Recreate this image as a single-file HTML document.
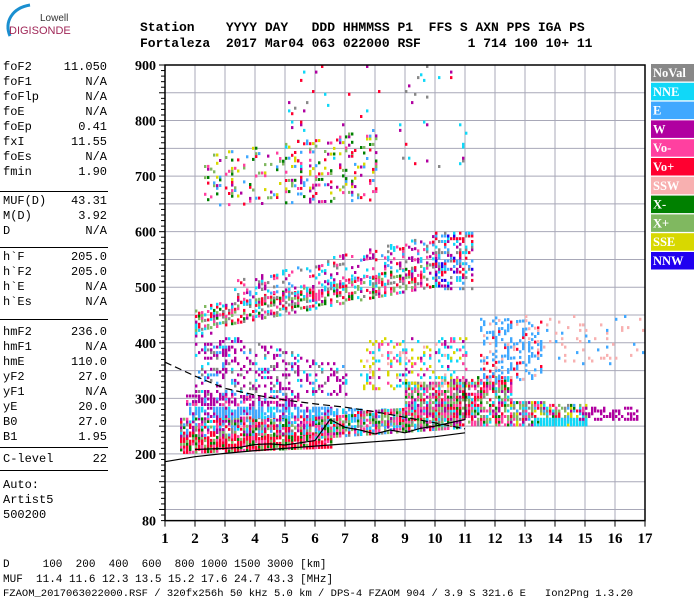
<!DOCTYPE html>
<html><head><meta charset="utf-8">
<style>
html,body{margin:0;padding:0;background:#fff;}
body{width:700px;height:600px;position:relative;overflow:hidden;font-family:"Liberation Mono",monospace;}
.t{position:absolute;white-space:pre;color:#000;}
.hd{font-family:"Liberation Mono",monospace;font-weight:bold;font-size:13px;}
.lp{font-size:12px;left:3px;width:104px;}
.lp span{float:right;}
.hr{position:absolute;left:0;width:108px;height:1px;background:#000;}
.bt{font-size:11px;left:3px;}
</style></head>
<body>
<svg width="700" height="600" style="position:absolute;left:0;top:0">
  <g>
    <path d="M10,36 C4,22 12,8 30,5" stroke="#1a8fd0" stroke-width="3" fill="none"/>
    <text x="40" y="21" font-family="Liberation Sans,sans-serif" font-size="10" fill="#333">Lowell</text>
    <text x="9" y="34" font-family="Liberation Sans,sans-serif" font-size="11" fill="#a02858">DIGISONDE</text>
  </g>
  <g id="grid"></g>
  <g id="marks"></g>
  <g id="lines"></g>
  <g id="axes"></g>
  <g id="legend"></g>
</svg>
<div class="t hd" style="left:140px;top:20px">Station    YYYY DAY   DDD HHMMSS P1  FFS S AXN PPS IGA PS</div>
<div class="t hd" style="left:140px;top:36px">Fortaleza  2017 Mar04 063 022000 RSF      1 714 100 10+ 11</div>
<div id="lp"></div>
<div class="t bt" style="top:559px">D     100  200  400  600  800 1000 1500 3000 [km]</div>
<div class="t bt" style="top:574px">MUF  11.4 11.6 12.3 13.5 15.2 17.6 24.7 43.3 [MHz]</div>
<div class="t bt" style="top:588px;font-size:10.5px">FZAOM_2017063022000.RSF / 320fx256h 50 kHz 5.0 km / DPS-4 FZAOM 904 / 3.9 S 321.6 E   Ion2Png 1.3.20</div>
<script>
const NS="http://www.w3.org/2000/svg";
// ---- data ----
const paramNames=["foF2","foF1","foFlp","foE","foEp","fxI","foEs","fmin","MUF(D)","M(D)","D","h`F","h`F2","h`E","h`Es","hmF2","hmF1","hmE","yF2","yF1","yE","B0","B1","C-level"];
const paramValues=["11.050","N/A","N/A","N/A","0.41","11.55","N/A","1.90","43.31","3.92","N/A","205.0","205.0","N/A","N/A","236.0","N/A","110.0","27.0","N/A","20.0","27.0","1.95","22"];
const paramTops=[60,75,90,105,120,135,150,165,194,209,224,250,265,280,295,325,340,355,370,385,400,415,430,452];
const dividerTops=[191,247,319,447,470];
const legendNames=["NoVal","NNE","E","W","Vo-","Vo+","SSW","X-","X+","SSE","NNW"];
const legendColors=["#888888","#10d8f8","#40a8ff","#b000a0","#ff40a0","#ff0030","#f8b0b0","#008000","#80b860","#d8d800","#2000f0"];
const xTicks=[1,2,3,4,5,6,7,8,9,10,11,12,13,14,15,16,17];
const yTickLabels=[900,800,700,600,500,400,300,200];
// echo regions
const regFreqLo=[1.5,1.5,1.8,6.5,1.7,6.0,9.0,12.5,13.3,14.8,11.5,13.0,7.5,2.0,2.0,3.0,10.0,2.3,5.0];
const regFreqHi=[6.5,6.0,6.5,9.0,5.5,10.8,12.5,15.0,15.0,16.8,13.5,17.0,11.0,7.0,10.0,10.0,11.2,8.0,11.0];
const regHLoStart=[205,235,270,272,292,232,255,255,255,265,330,360,320,310,425,465,500,650,720];
const regHHiStart=[235,268,285,285,312,268,330,300,265,285,450,450,410,430,465,510,600,740,900];
const regHLoEnd=[215,240,270,272,290,250,255,255,255,265,340,360,320,310,505,545,500,660,720];
const regHHiEnd=[240,270,285,285,305,300,345,290,265,285,440,450,410,360,545,600,600,790,900];
const regDensity=[0.9,0.85,0.8,0.4,0.6,0.85,0.8,0.7,0.9,0.55,0.35,0.08,0.3,0.3,0.55,0.3,0.5,0.2,0.03];
const regColors=["5545587","4335210875","2222213","2212","3333324","54887354210","5548873410","5483871029","1","3","2222265","6662","1919634","3333012","5488354710","2354310","10235A","5874392","5310"];
// profile lines
const lowerCurveF=[1,2,3,4,5,6,7,8,9,10,11];
const lowerCurveH=[186,195,201,206,210,214,218,222,226,231,238];
const dashCurveF=[1,2,3,4,5,6,7,8,9,10,11];
const dashCurveH=[365,340,318,306,297,290,284,276,266,256,245];
const profileF=[2,3,3.5,4,4.5,5,5.5,6,6.5,7,7.5,8,8.5,9,9.5,10,10.5,11,11];
const profileH=[208,210,212,217,218,216,220,224,262,248,243,236,243,238,246,250,256,262,330];

// ---- scales ----
const X=f=>165+(f-1)*30;
const Y=h=>65+(900-h)*0.5556;
function el(tag,attrs,parent){const e=document.createElementNS(NS,tag);for(const k in attrs)e.setAttribute(k,attrs[k]);parent.appendChild(e);return e;}

// left panel
const lp=document.getElementById('lp');
paramNames.forEach((n,i)=>{const d=document.createElement('div');d.className='t lp';d.style.top=paramTops[i]+'px';


d.innerHTML=n+'<span>'+paramValues[i]+'</span>';lp.appendChild(d);});
dividerTops.forEach(t=>{const d=document.createElement('div');d.className='hr';d.style.top=t+'px';


lp.appendChild(d);});
[["Auto:",478],["Artist5",493],["500200",508]].forEach(a=>{const d=document.createElement('div');d.className='t lp';d.style.top=a[1]+'px';d.textContent=a[0];


lp.appendChild(d);});

// grid
const g=document.getElementById('grid');
for(let h=100;h<=850;h+=50){const l=el('line',{x1:165,x2:645,y1:Y(h),y2:Y(h),stroke:'#a8a8b8','stroke-width':1},g);

}
xTicks.forEach(f=>{if(f>1&&f<17){const l=el('line',{x1:X(f),x2:X(f),y1:65,y2:Y(80),stroke:'#a8a8b8','stroke-width':1},g);

}});

// echo marks
const m=document.getElementById('marks');
function hash(a,b,s){let v=(a*73856093)^(b*19349663)^(s*83492791);v=(v^(v>>>13))*1274126177;v=v^(v>>>16);return ((v>>>0)%10000)/10000;}
regFreqLo.forEach((f0,r)=>{
  const f1=regFreqHi[r];const cols=regColors[r].split('').map(c=>c==='A'?10:parseInt(c));
  let i=0;
  for(let f=f0;f<=f1;f+=0.1,i++){
    const t=(f-f0)/(f1-f0||1);
    const lo=regHLoStart[r]+(regHLoEnd[r]-regHLoStart[r])*t;
    const hi=regHHiStart[r]+(regHHiEnd[r]-regHHiStart[r])*t;
    let j=0;
    for(let h=lo;h<=hi;h+=5,j++){
      if(hash(i,j,r+1)<regDensity[r]){
        const c=cols[Math.floor(hash(j,i,r+7)*cols.length)];
        const rc=el('rect',{x:X(f).toFixed(1),y:Y(h).toFixed(1),width:2.4,height:3,fill:legendColors[c]},m);
        
        
      }
    }
  }
});

// lines
const L=document.getElementById('lines');
const pts=(fs,hs)=>fs.map((f,i)=>X(f).toFixed(1)+','+Y(hs[i]).toFixed(1)).join(' ');
let p=el('polyline',{points:pts(lowerCurveF,lowerCurveH),fill:'none',stroke:'#000','stroke-width':1.2},L);


p=el('polyline',{points:pts(dashCurveF,dashCurveH),fill:'none',stroke:'#000','stroke-width':1.2,'stroke-dasharray':'7,4'},L);


p=el('polyline',{points:pts(profileF,profileH),fill:'none',stroke:'#000','stroke-width':1.2},L);



// axes
const A=document.getElementById('axes');
let fr=el('path',{d:`M165,65 H645 V${Y(80)} H165 Z`,fill:'none',stroke:'#000','stroke-width':1.5},A);


for(let h=80;h<=900;h+=10){const big=h%50===0;const l=el('line',{x1:165-(big?6:4),x2:165,y1:Y(h),y2:Y(h),stroke:'#000','stroke-width':1},A);

}
yTickLabels.concat([80]).forEach(h=>{const t=el('text',{x:156,y:Y(h)+5,'text-anchor':'end','font-family':'Liberation Serif,serif','font-weight':'bold','font-size':14},A);t.textContent=h;

});
xTicks.forEach(f=>{const l=el('line',{x1:X(f),x2:X(f),y1:Y(80),y2:Y(80)+6,stroke:'#000','stroke-width':1},A);


const t=el('text',{x:X(f),y:543,'text-anchor':'middle','font-family':'Liberation Serif,serif','font-weight':'bold','font-size':15},A);t.textContent=f;

});

// legend
const G=document.getElementById('legend');
legendNames.forEach((n,i)=>{const y=64+i*18.8;
const r=el('rect',{x:651,y:y,width:43,height:17.5,fill:legendColors[i]},G);


const t=el('text',{x:653,y:y+13,'font-family':'Liberation Serif,serif','font-weight':'bold','font-size':12.5,fill:'#fff'},G);t.textContent=n;

});
</script>
</body></html>
